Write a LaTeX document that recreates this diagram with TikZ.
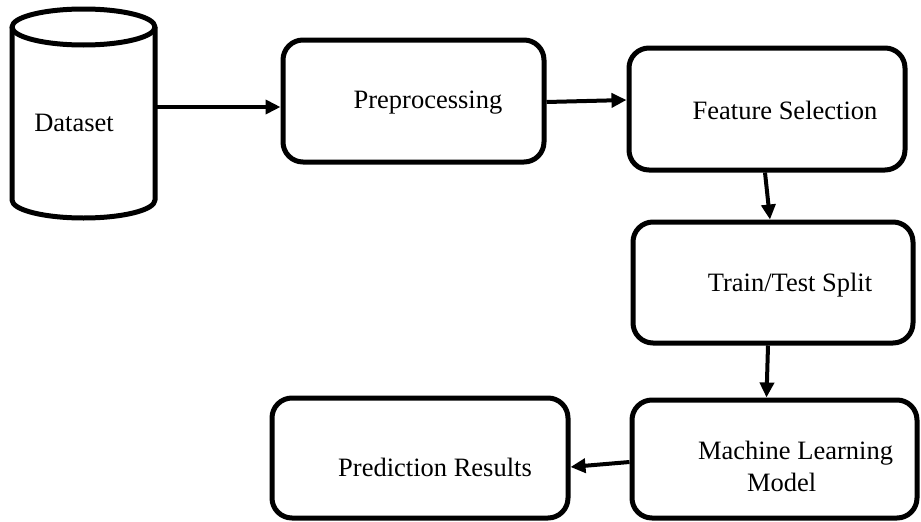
\documentclass[tikz,border=0pt]{standalone}
\usepackage{fontspec}
\setmainfont{Liberation Serif}
\usetikzlibrary{arrows.meta}
\begin{document}
\begin{tikzpicture}[x=1pt,y=1pt,line join=round,
  box/.style={draw, line width=5pt, rounded corners=20pt, fill=white, inner sep=0pt},
  lbl/.style={font=\fontsize{26.5pt}{32pt}\selectfont, inner sep=0pt, align=left},
  flow/.style={line width=4pt, -{Triangle[length=15pt,width=14pt]}}
]
\useasboundingbox (0,0) rectangle (921,-522);
% dataset cylinder
\draw[line width=5pt, fill=white] (12,-27) -- (12,-200)
  arc[start angle=180,end angle=360,x radius=71.5,y radius=18] -- (155,-27);
\draw[line width=5pt] (83.5,-27) ellipse[x radius=71.5, y radius=18];
\node[minimum width=143pt, minimum height=210pt, inner sep=0pt] (data) at (83.5,-113) {};
\node[lbl] (datat) at (74,-123) {Dataset};
% boxes
\node[box, minimum width=261pt, minimum height=122pt] (pre) at (413.5,-101) {};
\node[lbl] (pret) at (428,-103) {Preprocessing};
\node[box, minimum width=276pt, minimum height=122pt] (fs) at (767,-109) {};
\node[lbl] (fst) at (785,-110) {Feature Selection};
\node[box, minimum width=280pt, minimum height=121pt] (tts) at (773,-282.5) {};
\node[lbl] (ttst) at (790,-285) {Train/Test Split};
\node[box, minimum width=285pt, minimum height=118pt] (ml) at (774.5,-459) {};
\node[lbl] (mlt) at (795.5,-466) {Machine Learning\\\hspace*{49pt}Model};
\node[box, minimum width=296pt, minimum height=120pt] (pred) at (420,-458) {};
\node[lbl] (predt) at (435,-467) {Prediction Results};
% connectors
\draw[flow] ([yshift=6pt]data.east) -- ([yshift=-6pt]pre.west);
\draw[flow] ([yshift=-1pt]pre.east) -- ([yshift=9pt]fs.west);
\draw[flow] ([xshift=-2pt]fs.south) -- ([xshift=-3pt]tts.north);
\draw[flow] ([xshift=-5pt]tts.south) -- ([xshift=-8pt]ml.north);
\draw[flow] ([yshift=-3pt]ml.west) -- ([yshift=-9pt]pred.east);
\end{tikzpicture}
\end{document}
